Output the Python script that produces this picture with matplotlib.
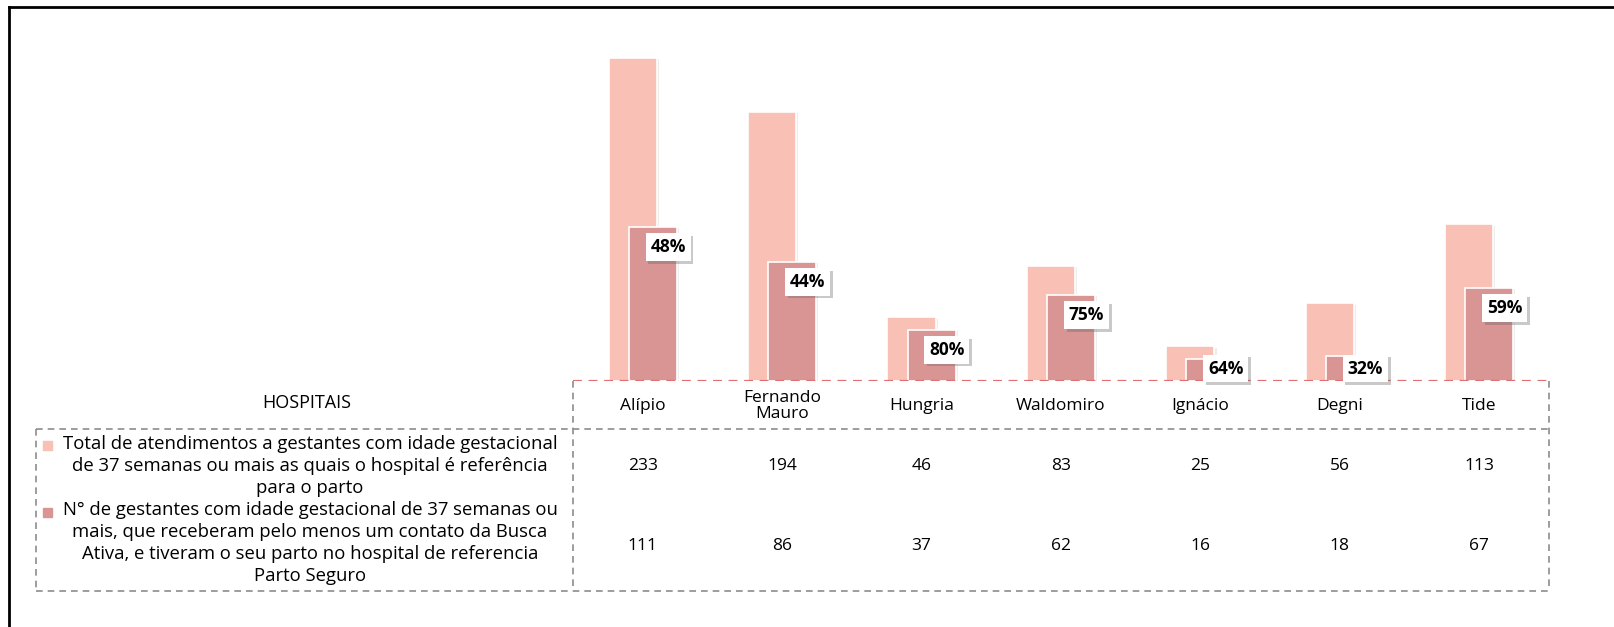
import matplotlib
matplotlib.use("Agg")
import matplotlib.pyplot as plt
import matplotlib.patheffects as pe
from matplotlib.patches import Rectangle
from matplotlib.lines import Line2D

plt.rcParams['font.family'] = ['Open Sans', 'DejaVu Sans']

# dados
hospitais = ["Alípio", "Fernando\nMauro", "Hungria", "Waldomiro", "Ignácio", "Degni", "Tide"]
total = [233, 194, 46, 83, 25, 56, 113]
busca = [111, 86, 37, 62, 16, 18, 67]
serie1 = "Total de atendimentos a gestantes com idade gestacional\nde 37 semanas ou mais as quais o hospital é referência\npara o parto"
serie2 = "N° de gestantes com idade gestacional de 37 semanas ou\nmais, que receberam pelo menos um contato da Busca\nAtiva, e tiveram o seu parto no hospital de referencia\nParto Seguro"

cor1 = "#F9C1B6"
cor2 = "#D99594"
cinza = "#8C8C8C"

W, H = 1614, 627
fig = plt.figure(figsize=(W / 100, H / 100), dpi=100)

def fx(px):
    return px / W

def fy(py):
    return 1 - py / H

# area do grafico
x0, x1, ytop, ybase = 573, 1549, 20, 381
ax = fig.add_axes([fx(x0), fy(ybase), fx(x1 - x0), (ybase - ytop) / H])
ax.set_xlim(-0.5, len(hospitais) - 0.5)
ax.set_ylim(0, (ybase - ytop) / 1.388)
ax.axis("off")

sombra = [pe.SimplePatchShadow(offset=(1.5, -1), shadow_rgbFace="#bbbbbb", alpha=0.25), pe.Normal()]
larg = 0.345
desl = 0.072
xs = list(range(len(hospitais)))
b1 = ax.bar([x - desl for x in xs], total, width=larg, color=cor1, edgecolor="white", linewidth=1.2, zorder=2)
b2 = ax.bar([x + desl for x in xs], busca, width=larg, color=cor2, edgecolor="white", linewidth=1.2, zorder=3)
for r in list(b1) + list(b2):
    r.set_path_effects(sombra)

ax.axhline(0, color="#E07070", lw=1.6, ls=(0, (4, 3)), zorder=4,
           path_effects=[pe.SimpleLineShadow(offset=(0, -2), shadow_color="#888888", alpha=0.3), pe.Normal()])

# rotulos de percentual
for x, t, b in zip(xs, total, busca):
    pct = round(100 * b / t)
    ly = max(b - 14.5, 9)
    txt = ax.text(x + desl + 0.11, ly, f"{pct}%", ha="center", va="center", fontsize=12.5,
                  fontweight="bold", color="black", zorder=6,
                  bbox=dict(boxstyle="square,pad=0.28", fc="white", ec="none"))
    txt.get_bbox_patch().set_path_effects([pe.SimplePatchShadow(offset=(2, -2), shadow_rgbFace="#666666", alpha=0.35), pe.Normal()])

# tabela de dados
tab_esq = 36
y_cab, y_fim = 429, 591
ls = (0, (4, 3))
linhas = [
    ((x0, x0), (ybase, y_fim)),
    ((x1, x1), (ybase, y_fim)),
    ((tab_esq, tab_esq), (y_cab, y_fim)),
    ((tab_esq, x1), (y_cab, y_cab)),
    ((tab_esq, x1), (y_fim, y_fim)),
]
for xx, yy in linhas:
    fig.add_artist(Line2D([fx(v) for v in xx], [fy(v) for v in yy], color=cinza, lw=1.2, ls=ls))

fig.text(fx(307), fy(403), "HOSPITAIS", ha="center", va="center", fontsize=13)

passo = (x1 - x0) / len(hospitais)
for i, nome in enumerate(hospitais):
    cx = x0 + passo * (i + 0.5)
    fig.text(fx(cx), fy(406), nome, ha="center", va="center", fontsize=12.5, linespacing=1.05)
    fig.text(fx(cx), fy(466), str(total[i]), ha="center", va="center", fontsize=12.5)
    fig.text(fx(cx), fy(546), str(busca[i]), ha="center", va="center", fontsize=12.5)

fig.text(fx(310), fy(466), serie1, ha="center", va="center", fontsize=13.3,
         multialignment="center", linespacing=1.3)
fig.text(fx(310), fy(543), serie2, ha="center", va="center", fontsize=13.3,
         multialignment="center", linespacing=1.3)
fig.add_artist(Rectangle((fx(43), fy(450)), fx(9), 9 / H, color=cor1, transform=fig.transFigure))
fig.add_artist(Rectangle((fx(43), fy(517)), fx(9), 9 / H, color=cor2, transform=fig.transFigure))

# borda
fig.add_artist(Line2D([fx(9), fx(9)], [fy(7), 0], color="black", lw=2))
fig.add_artist(Line2D([fx(9), 1], [fy(7), fy(7)], color="black", lw=2))

fig.savefig("out.png", dpi=100)
